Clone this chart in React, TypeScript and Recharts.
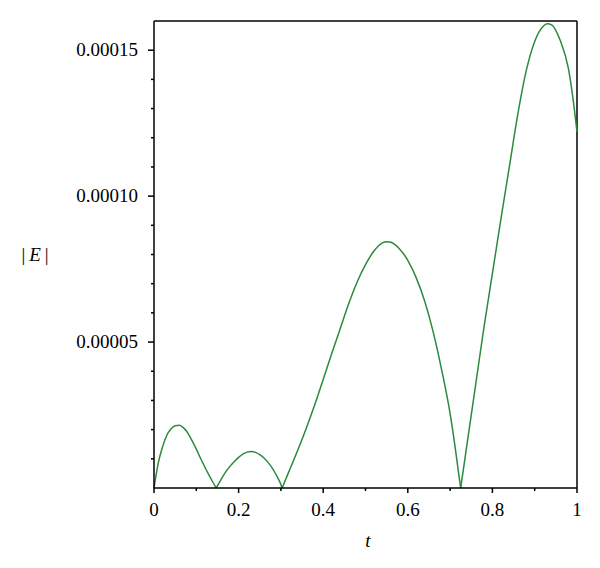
import { LineChart, Line, XAxis, YAxis, ReferenceLine, Label } from 'recharts';

// |E|, one array pair per arch (zeros shared at the cusps)
const arch1T = [0, 0.005, 0.01, 0.02, 0.03, 0.04, 0.05, 0.06, 0.07, 0.08, 0.09, 0.1, 0.11, 0.12, 0.13, 0.14, 0.147];
const arch1E = [0, 0.45e-5, 0.85e-5, 1.4e-5, 1.8e-5, 2.02e-5, 2.13e-5, 2.15e-5, 2.06e-5, 1.88e-5, 1.62e-5, 1.33e-5, 1.02e-5, 0.72e-5, 0.44e-5, 0.18e-5, 0];

const arch2T = [0.147, 0.155, 0.16, 0.17, 0.18, 0.19, 0.2, 0.21, 0.22, 0.23, 0.24, 0.25, 0.26, 0.27, 0.28, 0.29, 0.3, 0.303];
const arch2E = [0, 0.2e-5, 0.33e-5, 0.56e-5, 0.75e-5, 0.91e-5, 1.05e-5, 1.16e-5, 1.23e-5, 1.25e-5, 1.22e-5, 1.14e-5, 1.03e-5, 0.87e-5, 0.67e-5, 0.42e-5, 0.12e-5, 0];

const arch3T = [0.303, 0.31, 0.32, 0.34, 0.36, 0.38, 0.4, 0.42, 0.44, 0.46, 0.48, 0.5, 0.52, 0.54, 0.55, 0.56, 0.58, 0.6, 0.62, 0.64, 0.66, 0.68, 0.7, 0.71, 0.72, 0.725];
const arch3E = [0, 0.25e-5, 0.6e-5, 1.3e-5, 2.05e-5, 2.85e-5, 3.72e-5, 4.6e-5, 5.45e-5, 6.3e-5, 7.05e-5, 7.65e-5, 8.12e-5, 8.4e-5, 8.44e-5, 8.42e-5, 8.2e-5, 7.8e-5, 7.2e-5, 6.4e-5, 5.35e-5, 4.05e-5, 2.55e-5, 1.6e-5, 0.52e-5, 0];

const arch4T = [0.725, 0.73, 0.74, 0.75, 0.76, 0.78, 0.8, 0.82, 0.84, 0.86, 0.88, 0.9, 0.92, 0.93, 0.94, 0.96, 0.98, 0.99, 1];
const arch4E = [0, 0.5e-5, 1.5e-5, 2.5e-5, 3.5e-5, 5.5e-5, 7.35e-5, 9.2e-5, 11.0e-5, 12.8e-5, 14.3e-5, 15.3e-5, 15.82e-5, 15.91e-5, 15.87e-5, 15.35e-5, 14.35e-5, 13.4e-5, 12.2e-5];

const xTicks = [0, 0.1, 0.2, 0.3, 0.4, 0.5, 0.6, 0.7, 0.8, 0.9, 1];
const xLabelValues = [0, 0.2, 0.4, 0.6, 0.8, 1];
const xLabels = ['0', '0.2', '0.4', '0.6', '0.8', '1'];

const yTicks = [1e-5, 2e-5, 3e-5, 4e-5, 5e-5, 6e-5, 7e-5, 8e-5, 9e-5, 10e-5, 11e-5, 12e-5, 13e-5, 14e-5, 15e-5, 16e-5];
const yLabelValues = [5e-5, 10e-5, 15e-5];
const yLabels = ['0.00005', '0.00010', '0.00015'];

const arches = [
  arch1T.map((t, i) => ({ t, err: arch1E[i] })),
  arch2T.map((t, i) => ({ t, err: arch2E[i] })),
  arch3T.map((t, i) => ({ t, err: arch3E[i] })),
  arch4T.map((t, i) => ({ t, err: arch4E[i] })),
];

const FONT = "'Liberation Serif', 'DejaVu Serif', serif";
const FS = 19;

const XTick = (props: any) => {
  const { x, y, payload } = props;
  const idx = xLabelValues.indexOf(payload.value);
  const major = idx >= 0;
  return (
    <g>
      <line x1={x} x2={x} y1={y} y2={y + (major ? 5 : 3)} stroke="#000" strokeWidth={1.5} />
      {major && (
        <text x={x} y={y + 28} textAnchor="middle" fontSize={FS} fontFamily={FONT} fill="#000">
          {xLabels[idx]}
        </text>
      )}
    </g>
  );
};

const YTick = (props: any) => {
  const { x, y, payload } = props;
  if (payload.value >= 16e-5) return <g />;
  const idx = yLabelValues.indexOf(payload.value);
  const major = idx >= 0;
  return (
    <g>
      <line x1={x - (major ? 6 : 3)} x2={x} y1={y} y2={y} stroke="#000" strokeWidth={1.5} />
      {major && (
        <text x={x - 16} y={y + 6} textAnchor="end" fontSize={FS} fontFamily={FONT} fill="#000">
          {yLabels[idx]}
        </text>
      )}
    </g>
  );
};

export default function App() {
  return (
    <LineChart width={592} height={560} margin={{ top: 13, right: 23, bottom: 0, left: 0 }}>
      <XAxis
        dataKey="t"
        type="number"
        domain={[0, 1]}
        ticks={xTicks}
        interval={0}
        tick={<XTick />}
        tickSize={0}
        tickMargin={0}
        tickLine={false}
        height={80}
        allowDuplicatedCategory={false}
        axisLine={{ stroke: '#000', strokeWidth: 1.5 }}
      >
        <Label
          content={() => (
            <text x={360} y={539} textAnchor="middle" fontSize={FS} fontStyle="italic" fontFamily={FONT} fill="#000">
              t
            </text>
          )}
        />
      </XAxis>
      <YAxis
        type="number"
        domain={[0, 16e-5]}
        ticks={yTicks}
        interval={0}
        tick={<YTick />}
        tickSize={0}
        tickMargin={0}
        tickLine={false}
        width={146}
        axisLine={{ stroke: '#000', strokeWidth: 1.5 }}
      >
        <Label
          content={() => (
            <text x={27} y={253} textAnchor="middle" fontSize={FS} fontFamily={FONT} fill="#000">
              |<tspan fontStyle="italic" dx={4}>E</tspan>
              <tspan dx={4}>|</tspan>
            </text>
          )}
        />
      </YAxis>
      <ReferenceLine y={16e-5} stroke="#000" strokeWidth={1.5} />
      <ReferenceLine x={1} stroke="#000" strokeWidth={1.5} />
      {arches.map((d, i) => (
        <Line
          key={i}
          data={d}
          type="monotone"
          dataKey="err"
          stroke="#2a8a3e"
          strokeWidth={1.5}
          dot={false}
          isAnimationActive={false}
        />
      ))}
    </LineChart>
  );
}
